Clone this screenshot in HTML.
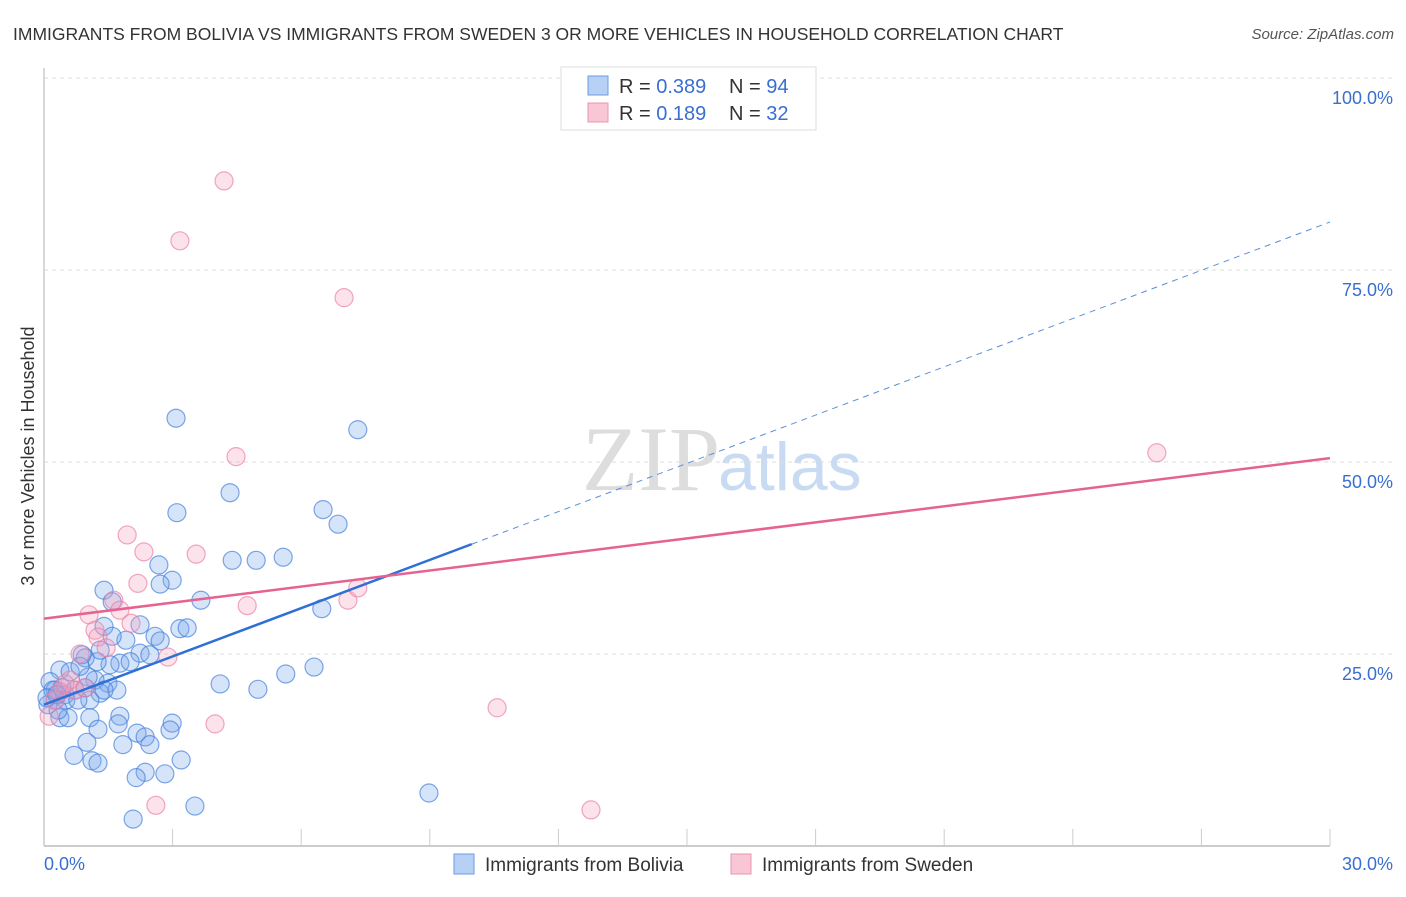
<!DOCTYPE html>
<html><head><meta charset="utf-8"><style>
body{margin:0;background:#fff;font-family:"Liberation Sans",sans-serif}
svg text{font-family:"Liberation Sans",sans-serif}
</style></head><body>
<svg id="chart" width="1406" height="892" xmlns="http://www.w3.org/2000/svg">
<text x="13" y="40" font-size="17.5" fill="#333">IMMIGRANTS FROM BOLIVIA VS IMMIGRANTS FROM SWEDEN 3 OR MORE VEHICLES IN HOUSEHOLD CORRELATION CHART</text>
<text x="1394" y="39" font-size="15" fill="#555" font-style="italic" text-anchor="end">Source: ZipAtlas.com</text>
<text x="720" y="490" font-size="92" fill="#ddd" text-anchor="end" font-family="Liberation Serif" style="font-family:'Liberation Serif',serif">ZIP</text>
<text x="718" y="490" font-size="68" fill="#c9dbf3">atlas</text>
<g id="grid"></g><g id="axes"></g><g id="pts"></g><g id="trend"></g>
<text transform="translate(34,456) rotate(-90)" font-size="18" fill="#333" text-anchor="middle">3 or more Vehicles in Household</text>
<g>
<rect x="561" y="67" width="255" height="63" fill="#fff" stroke="#ddd"/>
<rect x="588" y="76" width="20" height="19" fill="#b7d1f5" stroke="#6b9be0"/>
<rect x="588" y="103" width="20" height="19" fill="#f8c6d4" stroke="#eb94af"/>
<text x="619" y="93" font-size="20" fill="#333">R = <tspan fill="#3a6fd0">0.389</tspan><tspan x="729">N = </tspan><tspan fill="#3a6fd0">94</tspan></text>
<text x="619" y="120" font-size="20" fill="#333">R = <tspan fill="#3a6fd0"> 0.189</tspan><tspan x="729">N = </tspan><tspan fill="#3a6fd0">32</tspan></text>
</g>
<g>
<rect x="454" y="854" width="20" height="20" fill="#b7d1f5" stroke="#6b9be0"/>
<text x="485" y="871" font-size="19" fill="#333">Immigrants from Bolivia</text>
<rect x="731" y="854" width="20" height="20" fill="#f8c6d4" stroke="#eb94af"/>
<text x="762" y="871" font-size="19" fill="#333">Immigrants from Sweden</text>
</g>
</svg>
<script>
const boliviaX=[3.08,7.32,4.34,3.10,6.51,6.86,4.39,4.95,5.58,2.68,2.99,2.71,1.40,3.66,1.59,6.48,3.17,3.34,1.40,2.59,1.91,2.71,2.24,1.77,2.01,1.54,0.96,1.24,0.89,6.30,5.64,4.11,4.99,1.49,1.19,1.03,0.37,0.61,0.14,0.26,0.49,0.72,0.26,0.51,1.31,1.07,0.09,0.37,0.56,1.07,1.77,1.73,2.99,2.94,1.26,2.17,2.36,2.47,1.84,1.00,0.70,1.12,1.26,3.20,2.36,2.82,2.15,3.52,8.98,2.08,0.21,0.42,0.84,1.59,2.47,1.31,0.33,0.07,0.79,0.96,1.70,2.24,1.40,0.30];
const boliviaY=[55.7,54.2,46.0,43.4,43.8,41.9,37.2,37.2,37.6,36.6,34.6,34.1,33.3,32.0,31.8,30.9,28.3,28.4,28.6,27.3,26.8,26.7,25.1,23.8,24.0,23.6,24.5,24.0,24.9,23.3,22.4,21.1,20.4,21.2,21.6,22.0,22.9,22.7,21.4,20.3,19.7,20.3,19.0,19.0,19.9,19.0,18.4,16.7,16.7,16.7,16.9,15.9,16.0,15.1,15.2,14.7,14.2,13.2,13.2,13.5,11.8,11.1,10.8,11.2,9.6,9.4,8.9,5.2,6.9,3.5,20.3,20.6,23.4,27.3,24.9,25.5,17.7,19.3,19.0,20.6,20.3,28.8,20.3,19.7];
const swedenX=[4.20,3.17,7.00,4.48,25.96,1.94,2.33,3.55,2.19,4.74,7.09,7.32,1.63,1.77,1.05,2.03,1.19,1.26,1.45,2.89,0.84,0.61,0.72,0.37,0.12,3.99,10.57,2.61,12.76,0.49,0.26,0.96];
const swedenY=[86.6,78.8,71.4,50.7,51.2,40.5,38.3,38.0,34.2,31.3,32.0,33.6,32.0,30.7,30.1,29.0,28.1,27.2,25.8,24.6,25.0,21.6,20.3,20.1,16.9,15.9,18.0,5.3,4.7,21.1,19.0,20.6];
const xTicks=[0,3,6,9,12,15,18,21,24,27,30];
const yTicks=[25,50,75,100];
const yTickLabels=["25.0%","50.0%","75.0%","100.0%"];
const blueTrend=[18.4,81.25], blueSolidEnd=9.98;
const pinkTrend=[29.6,50.5];
const NS="http://www.w3.org/2000/svg";
const sx=v=>44+v/30*1286, sy=v=>846-v/100*768;
function mk(tag,attrs,parent){const e=document.createElementNS(NS,tag);for(const k in attrs)e.setAttribute(k,attrs[k]);document.getElementById(parent).appendChild(e);return e;}
yTicks.forEach((t,i)=>{
 const l=mk('line',{x1:44,x2:1393,y1:sy(t),y2:sy(t),stroke:'#ddd','stroke-dasharray':'4,4'},'grid');
 
 
 const tx=mk('text',{x:1393,y:sy(t)+26,'text-anchor':'end','font-size':18,fill:'#3a6fd0'},'grid');
 tx.textContent=yTickLabels[i];
 
 
});
const ax=mk('line',{x1:44,x2:1330,y1:846,y2:846,stroke:'#bbb','stroke-width':1.5},'axes');


const ay=mk('line',{x1:44,x2:44,y1:68,y2:846,stroke:'#ccc','stroke-width':1.5},'axes');


xTicks.forEach(t=>{
 const l=mk('line',{x1:sx(t),x2:sx(t),y1:829,y2:846,stroke:'#ccc'},'axes');
 
 
});
[[0,'0.0%','start',44],[30,'30.0%','end',1393]].forEach(d=>{
 const tx=mk('text',{x:d[3],y:870,'text-anchor':d[2],'font-size':18,fill:'#3a6fd0'},'axes');
 tx.textContent=d[1];
 
 
});
boliviaX.forEach((x,i)=>{
 const c=mk('circle',{cx:sx(x),cy:sy(boliviaY[i]),r:9,fill:'rgba(120,165,235,0.3)',stroke:'rgba(70,130,220,0.7)','stroke-width':1.2},'pts');
 
 
});
swedenX.forEach((x,i)=>{
 const c=mk('circle',{cx:sx(x),cy:sy(swedenY[i]),r:9,fill:'rgba(245,160,190,0.3)',stroke:'rgba(235,130,165,0.7)','stroke-width':1.2},'pts');
 
 
});
const by=x=>blueTrend[0]+(blueTrend[1]-blueTrend[0])*x/30;
const b1=mk('line',{x1:sx(0),y1:sy(by(0)),x2:sx(blueSolidEnd),y2:sy(by(blueSolidEnd)),stroke:'#2f6fd6','stroke-width':2.5},'trend');


const b2=mk('line',{x1:sx(blueSolidEnd),y1:sy(by(blueSolidEnd)),x2:sx(30),y2:sy(by(30)),stroke:'#5b8fd9','stroke-width':1,'stroke-dasharray':'6,5'},'trend');


const p1=mk('line',{x1:sx(0),y1:sy(pinkTrend[0]),x2:sx(30),y2:sy(pinkTrend[1]),stroke:'#e6628f','stroke-width':2.5},'trend');


</script>
</body></html>
